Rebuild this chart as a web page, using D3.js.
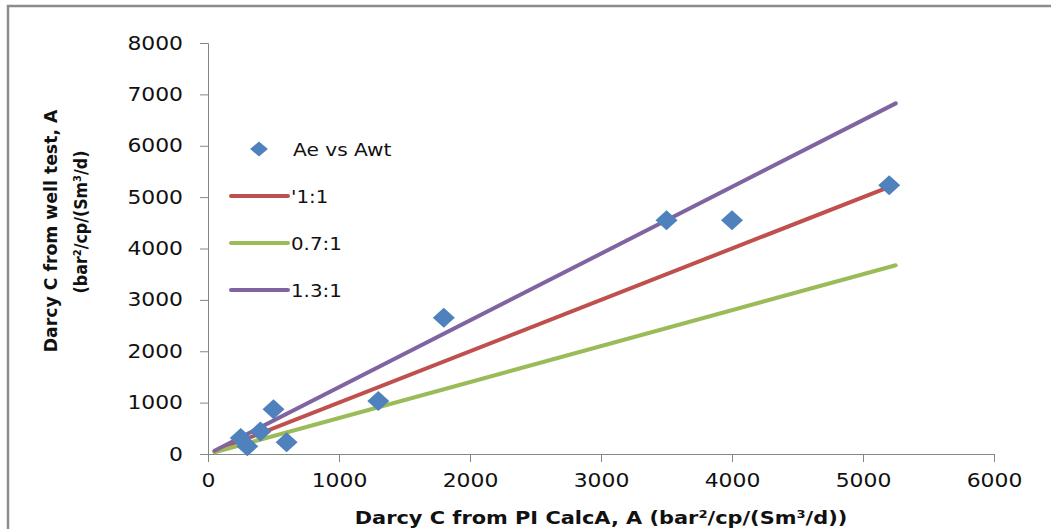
<!DOCTYPE html>
<html>
<head>
<meta charset="utf-8">
<script src="https://cdn.jsdelivr.net/npm/d3@7"></script>
<style>
  body { margin: 0; background: #fff; }
  text { font-family: "DejaVu Sans", sans-serif; fill: #111; }
</style>
</head>
<body>
<div class="vis-scatter"></div>
<script>
// measured points: Ae vs Awt
var pointsX = [250, 300, 400, 500, 600, 1300, 1800, 3500, 4000, 5200];
var pointsY = [310, 150, 440, 870, 230, 1030, 2650, 4550, 4550, 5230];
// reference lines (ratio of well test to PI calc)
var lineNames = ["'1:1", "0.7:1", "1.3:1"];
var lineRatios = [1, 0.7, 1.3];
var lineRange = [50, 5250];
var xTicks = [0, 1000, 2000, 3000, 4000, 5000, 6000];
var yTicks = [0, 1000, 2000, 3000, 4000, 5000, 6000, 7000, 8000];

var colors = { pts: "#4f81bd", lines: ["#c0504d", "#9bbb59", "#8064a2"], axis: "#868686" };

var width = 1051, height = 529;
var svg = d3.select(".vis-scatter").append("svg")
    .attr("width", width).attr("height", height);

// stretch text horizontally, the picture is wider than the original
function stretch(sel, f) {
  sel.each(function () {
    var l = this.getComputedTextLength();
    d3.select(this).attr("textLength", l * f).attr("lengthAdjust", "spacingAndGlyphs");
  });
}

// outer frame
svg.append("rect")
  .attr("x", 8).attr("y", 6).attr("width", width + 20).attr("height", height + 20)
  .attr("fill", "none").attr("stroke", "#8c8c8c").attr("stroke-width", 2.5);

var x = d3.scaleLinear().domain([0, 6000]).range([208, 994]);
var y = d3.scaleLinear().domain([0, 8000]).range([454, 43]);

// X axis
var gx = svg.append("g").attr("transform", "translate(0," + y(0) + ")")
  .call(d3.axisBottom(x).tickValues(xTicks).tickSize(8).tickPadding(12).tickFormat(d3.format("d")));
gx.select(".domain").attr("stroke", colors.axis);
gx.selectAll(".tick line").attr("stroke", colors.axis);
gx.selectAll(".tick text").attr("font-size", 19).attr("font-family", "DejaVu Sans").attr("fill", "#111")
  .call(stretch, 1.15);

// Y axis
var gy = svg.append("g").attr("transform", "translate(" + x(0) + ",0)")
  .call(d3.axisLeft(y).tickValues(yTicks).tickSize(8).tickPadding(17).tickFormat(d3.format("d")));
gy.select(".domain").attr("stroke", colors.axis);
gy.selectAll(".tick line").attr("stroke", colors.axis);
gy.selectAll(".tick text").attr("font-size", 19).attr("font-family", "DejaVu Sans").attr("fill", "#111")
  .call(stretch, 1.15);

// ratio lines
lineRatios.forEach(function (r, i) {
  svg.append("line")
    .attr("x1", x(lineRange[0])).attr("y1", y(lineRange[0] * r))
    .attr("x2", x(lineRange[1])).attr("y2", y(lineRange[1] * r))
    .attr("stroke", colors.lines[i]).attr("stroke-width", 4).attr("stroke-linecap", "round");
});

// diamonds
var diamond = d3.symbol().type(d3.symbolSquare).size(200);
svg.append("g").selectAll("path")
  .data(pointsX.map(function (d, i) { return [d, pointsY[i]]; }))
  .enter().append("path")
    .attr("d", diamond)
    .attr("transform", function (d) { return "translate(" + x(d[0]) + "," + y(d[1]) + ") scale(1.1,1) rotate(45)"; })
    .attr("fill", colors.pts);

// legend
var leg = svg.append("g");
leg.append("path").attr("d", d3.symbol().type(d3.symbolSquare).size(110))
  .attr("transform", "translate(259,149) scale(1.2,1) rotate(45)").attr("fill", colors.pts);
leg.append("text").attr("x", 293).attr("y", 156).attr("font-size", 18).text("Ae vs Awt").call(stretch, 1.12);
var legY = [196, 243, 290];
lineNames.forEach(function (n, i) {
  leg.append("line").attr("x1", 231).attr("x2", 288).attr("y1", legY[i]).attr("y2", legY[i])
    .attr("stroke", colors.lines[i]).attr("stroke-width", 4).attr("stroke-linecap", "round");
  leg.append("text").attr("x", 291).attr("y", legY[i] + 7).attr("font-size", 18).text(n).call(stretch, 1.1);
});

// axis titles
svg.append("text").attr("x", 601).attr("y", 524).attr("text-anchor", "middle")
  .attr("font-size", 18).attr("font-weight", "bold")
  .text("Darcy C from PI CalcA, A (bar\u00b2/cp/(Sm\u00b3/d))").call(stretch, 1.16);
var yt = svg.append("g").attr("transform", "translate(57,231) rotate(-90)");
yt.append("text").attr("text-anchor", "middle").attr("font-size", 18).attr("font-weight", "bold")
  .text("Darcy C from well test, A").call(stretch, 0.96);
yt.append("text").attr("x", 9).attr("y", 30).attr("text-anchor", "middle").attr("font-size", 18).attr("font-weight", "bold")
  .text("(bar\u00b2/cp/(Sm\u00b3/d)").call(stretch, 0.88);
</script>
</body>
</html>
